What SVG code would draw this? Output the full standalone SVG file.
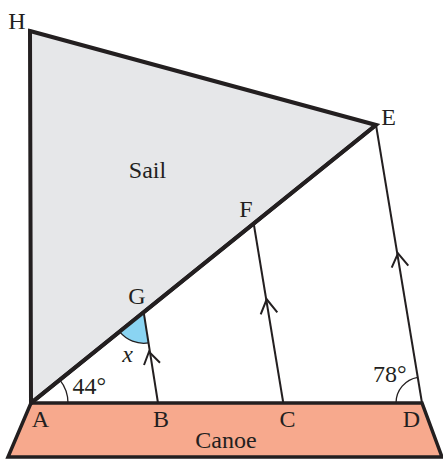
<svg xmlns="http://www.w3.org/2000/svg" width="443" height="459" viewBox="0 0 443 459">
<style>
.lbl{font-family:"Liberation Serif","Times New Roman",serif;font-size:24px;fill:#231f20}
.thin{stroke:#231f20;stroke-width:2;fill:none}
.chev{stroke:#231f20;stroke-width:2;fill:none;stroke-linejoin:miter}
.thick{stroke:#231f20;stroke-width:4;stroke-linejoin:miter}
.arc{stroke:#231f20;stroke-width:1.3;fill:none}
</style>
<rect width="443" height="459" fill="#ffffff"/>
<g id="canoe">
<polygon points="31,403 422,403 442,457 8,457" fill="#f7a98d" stroke="#231f20" stroke-width="3.5"/>
<text class="lbl" x="226" y="448" text-anchor="middle">Canoe</text>
</g>
<g id="sail">
<polygon class="thick" points="30,31 376,125 31,403" fill="#e6e7e9"/>
<text class="lbl" x="147.5" y="178" text-anchor="middle">Sail</text>
</g>
<g id="angle-x">
<path d="M143.7,312.3 L119.6,331.7 A31,31 0 0 0 148.5,342.9 Z" fill="#8ad4f2"/>
<path class="arc" d="M119.6,331.7 A31,31 0 0 0 148.5,342.9"/>
<text class="lbl" x="127.5" y="362" text-anchor="middle" font-style="italic">x</text>
</g>
<g id="connectors">
<line class="thin" x1="158" y1="403" x2="143.7" y2="312.3"/>
<line class="thin" x1="283.3" y1="403" x2="253.7" y2="223.5"/>
<line class="thin" x1="422" y1="403" x2="376" y2="125"/>
<polyline class="chev" points="144,365 149,351.7 160,362.7"/>
<polyline class="chev" points="260.7,314.3 266.7,299.3 277.3,312.3"/>
<polyline class="chev" points="391.7,267.7 398,253.3 408.3,265.7"/>
<path class="arc" d="M68,403 A37,37 0 0 0 59.8,379.8"/>
<path class="arc" d="M396,403 A26,26 0 0 1 417.8,377.4"/>
<line x1="31" y1="403" x2="376" y2="125" class="thick"/>
</g>
<g id="labels">
<text class="lbl" x="17" y="28.5" text-anchor="middle">H</text>
<text class="lbl" x="388.5" y="125" text-anchor="middle">E</text>
<text class="lbl" x="246" y="217" text-anchor="middle">F</text>
<text class="lbl" x="137" y="304" text-anchor="middle">G</text>
<text class="lbl" x="40.5" y="427" text-anchor="middle">A</text>
<text class="lbl" x="161" y="427" text-anchor="middle">B</text>
<text class="lbl" x="287.5" y="427" text-anchor="middle">C</text>
<text class="lbl" x="411.5" y="427" text-anchor="middle">D</text>
<text class="lbl" x="72.5" y="393.5">44°</text>
<text class="lbl" x="373" y="382">78°</text>
</g>
</svg>
